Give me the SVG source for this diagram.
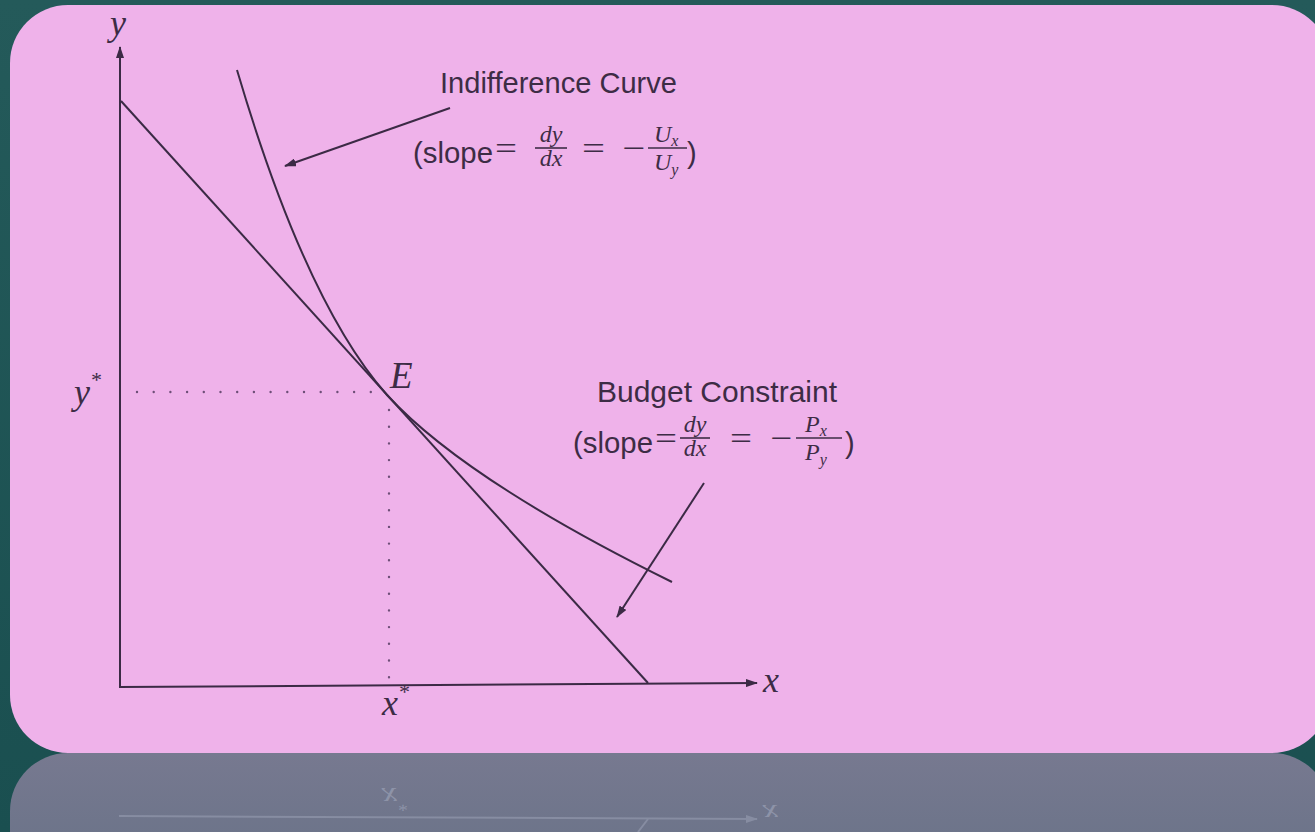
<svg xmlns="http://www.w3.org/2000/svg" width="1315" height="832" viewBox="0 0 1315 832">
<defs>
<linearGradient id="refl" x1="0" y1="0" x2="0" y2="1">
<stop offset="0" stop-color="#777990"/>
<stop offset="1" stop-color="#53687a"/>
</linearGradient>
<linearGradient id="bg" x1="0" y1="0" x2="0" y2="1">
<stop offset="0" stop-color="#245a5a"/>
<stop offset="1" stop-color="#1a4f50"/>
</linearGradient>
<clipPath id="reflClip"><rect x="0" y="753" width="1315" height="79"/></clipPath>
<marker id="ah" markerWidth="12" markerHeight="8" refX="11" refY="4" orient="auto" markerUnits="userSpaceOnUse">
<path d="M0,0 L12,4 L0,8 z" fill="#3b2a45"/>
</marker>
<marker id="ahr" markerWidth="12" markerHeight="8" refX="11" refY="4" orient="auto" markerUnits="userSpaceOnUse">
<path d="M0,0 L12,4 L0,8 z" fill="#8d93a8"/>
</marker>
</defs>
<style>
.ln{stroke:#3b2a45;stroke-width:2;fill:none}
.dot{stroke:#6e4f78;stroke-width:2.4;stroke-linecap:round;fill:none;stroke-dasharray:0 16.7}
.sans{font-family:"Liberation Sans","DejaVu Sans",sans-serif;fill:#3d2c45}
.math{font-family:"Liberation Serif","DejaVu Serif",serif;font-style:italic;fill:#3d2c45}
.op{font-family:"Liberation Serif","DejaVu Serif",serif;fill:#3d2c45}
.bar{stroke:#3d2c45;stroke-width:1.6}
.rtx{font-family:"Liberation Serif","DejaVu Serif",serif;font-style:italic;fill:#8d93a8}
</style>
<rect x="0" y="0" width="1315" height="832" fill="url(#bg)"/>
<g id="reflection">
<rect x="10" y="753" width="1320" height="300" rx="58" ry="58" fill="url(#refl)"/>
<g clip-path="url(#reflClip)" opacity="0.8">
<line x1="119" y1="816" x2="757" y2="819" stroke="#8d93a8" stroke-width="2" marker-end="url(#ahr)"/>
<line x1="648" y1="819" x2="638" y2="832" stroke="#8d93a8" stroke-width="2"/>
</g>
<text class="rtx" transform="translate(382,788) scale(1,-0.8)" font-size="34">x<tspan font-size="20" dy="-15">*</tspan></text>
<text class="rtx" transform="translate(763,805) scale(1,-0.75)" font-size="34">x</text>
</g>
<rect id="panel" x="10" y="5" width="1320" height="748" rx="58" ry="58" fill="#efb2ea"/>
<g id="axes">
<line class="ln" x1="120" y1="688" x2="120" y2="47" marker-end="url(#ah)"/>
<line class="ln" x1="119" y1="687" x2="757" y2="683" marker-end="url(#ah)"/>
<text class="math" x="110" y="35" font-size="36">y</text>
<text class="math" x="763" y="692" font-size="36">x</text>
</g>
<g id="budget-line">
<line class="ln" x1="121" y1="101" x2="648" y2="683"/>
</g>
<g id="indifference-curve">
<path class="ln" d="M237,70 C283,226 333,334 387,395 C438,450.5 532.7,513.3 672,582"/>
</g>
<g id="equilibrium">
<line class="dot" x1="137" y1="392" x2="380" y2="392"/>
<line class="dot" x1="389" y1="410" x2="389" y2="686"/>
<text class="math" x="390" y="388" font-size="37">E</text>
<text class="math" x="74" y="404" font-size="36">y<tspan font-size="22" dy="-17">*</tspan></text>
<text class="math" x="382" y="715" font-size="36">x<tspan font-size="22" dy="-16">*</tspan></text>
</g>
<g id="ic-label">
<text class="sans" x="440" y="93" font-size="29" textLength="237" lengthAdjust="spacingAndGlyphs">Indifference Curve</text>
<text class="sans" x="413" y="163" font-size="29" textLength="80" lengthAdjust="spacingAndGlyphs">(slope</text>
<text class="op" x="495" y="159" font-size="32" textLength="22" lengthAdjust="spacingAndGlyphs">=</text>
<text class="math" x="551" y="142" font-size="24" text-anchor="middle">dy</text>
<line class="bar" x1="535" y1="148" x2="567" y2="148"/>
<text class="math" x="551" y="166" font-size="24" text-anchor="middle">dx</text>
<text class="op" x="582" y="159" font-size="32" textLength="23" lengthAdjust="spacingAndGlyphs">=</text>
<text class="op" x="622" y="159" font-size="32" textLength="23" lengthAdjust="spacingAndGlyphs">−</text>
<text class="math" x="654" y="142" font-size="24">U<tspan font-size="16" dy="4">x</tspan></text>
<line class="bar" x1="648" y1="148" x2="687" y2="148"/>
<text class="math" x="654" y="170" font-size="24">U<tspan font-size="16" dy="5">y</tspan></text>
<text class="sans" x="687" y="163" font-size="29">)</text>
</g>
<g id="bc-label">
<text class="sans" x="597" y="402" font-size="29" textLength="240" lengthAdjust="spacingAndGlyphs">Budget Constraint</text>
<text class="sans" x="573" y="453" font-size="29" textLength="80" lengthAdjust="spacingAndGlyphs">(slope</text>
<text class="op" x="655" y="449" font-size="32" textLength="22" lengthAdjust="spacingAndGlyphs">=</text>
<text class="math" x="695" y="432" font-size="24" text-anchor="middle">dy</text>
<line class="bar" x1="680" y1="438" x2="710" y2="438"/>
<text class="math" x="695" y="456" font-size="24" text-anchor="middle">dx</text>
<text class="op" x="730" y="449" font-size="32" textLength="22" lengthAdjust="spacingAndGlyphs">=</text>
<text class="op" x="770" y="449" font-size="32" textLength="22" lengthAdjust="spacingAndGlyphs">−</text>
<text class="math" x="805" y="432" font-size="24">P<tspan font-size="16" dy="4">x</tspan></text>
<line class="bar" x1="796" y1="438" x2="842" y2="438"/>
<text class="math" x="805" y="460" font-size="24">P<tspan font-size="16" dy="5">y</tspan></text>
<text class="sans" x="845" y="453" font-size="29">)</text>
</g>
<g id="connectors">
<line class="ln" x1="450" y1="108" x2="285" y2="166" marker-end="url(#ah)"/>
<line class="ln" x1="704" y1="483" x2="617" y2="617" marker-end="url(#ah)"/>
</g>
</svg>
